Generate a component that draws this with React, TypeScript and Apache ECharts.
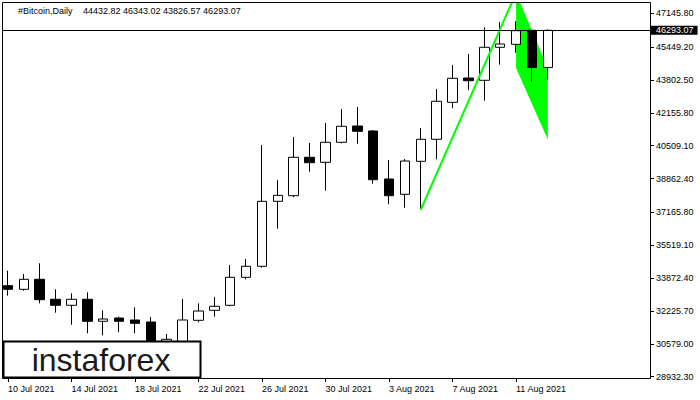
import React, { useEffect, useRef } from "react";
import * as echarts from "echarts";

const FONT = '"Liberation Sans", Arial, sans-serif';

const symbolName = "#Bitcoin,Daily";

// Candle dates (bars that exist)
const dates = [
  "10 Jul 2021", "11 Jul 2021", "12 Jul 2021", "13 Jul 2021", "14 Jul 2021",
  "15 Jul 2021", "16 Jul 2021", "17 Jul 2021", "18 Jul 2021", "19 Jul 2021",
  "20 Jul 2021", "21 Jul 2021", "22 Jul 2021", "23 Jul 2021", "24 Jul 2021",
  "25 Jul 2021", "26 Jul 2021", "27 Jul 2021", "28 Jul 2021", "29 Jul 2021",
  "30 Jul 2021", "31 Jul 2021", "1 Aug 2021", "2 Aug 2021", "3 Aug 2021",
  "4 Aug 2021", "5 Aug 2021", "6 Aug 2021", "7 Aug 2021", "8 Aug 2021",
  "9 Aug 2021", "10 Aug 2021", "11 Aug 2021", "12 Aug 2021", "13 Aug 2021",
];
// Empty space to the right of the last bar
const futureSlots = [
  "14 Aug 2021", "15 Aug 2021", "16 Aug 2021", "17 Aug 2021", "18 Aug 2021", "19 Aug 2021",
];

const opens = [
  33493, 33312, 33814, 32812, 32511, 32812, 31709, 31874, 31774, 31674,
  29950, 30600, 31759, 32260, 32511, 33914, 34466, 37723, 38004, 39929,
  39678, 40680, 41497, 41247, 38841, 38074, 39728, 40831, 42685, 43903,
  43788, 45442, 45592, 46293, 44432.82,
];
const highs = [
  34245, 34080, 34616, 33312, 33112, 33162, 32260, 31939, 32411, 31924,
  31072, 32827, 32611, 32927, 34531, 34831, 40545, 38791, 40946, 40645,
  41648, 42349, 42449, 41297, 39793, 39843, 41397, 43352, 44555, 45106,
  46444, 46710, 46745, 46330, 46343.02,
];
const lows = [
  32992, 33243, 32611, 32140, 31539, 31107, 31007, 31158, 31107, 30300,
  29400, 30100, 31659, 31939, 32461, 33814, 34395, 36350, 37924, 39207,
  38255, 40630, 40610, 38605, 37573, 37403, 37337, 39828, 42385, 43287,
  42765, 44570, 45171, 43718, 43826.57,
];
const closes = [
  33313, 33814, 32792, 32511, 32812, 31709, 31824, 31709, 31609, 30650,
  30807, 31774, 32225, 32461, 33914, 34466, 37723, 38024, 39929, 39658,
  40680, 41483, 41232, 38806, 38004, 39743, 40831, 42735, 43888, 43768,
  45442, 45607, 46274, 44433, 46293.07,
];

const yTicks = [
  28932.3, 30579.0, 32225.7, 33872.4, 35519.1, 37165.8,
  38862.4, 40509.1, 42155.8, 43802.5, 45449.2, 47145.8,
];
const yMin = 28867;
const yMax = 47662;

// Flag pattern (pole + flag body), in bar index / price
const poleIdx = [26, 32];
const poleVals = [37300, 48163];
const flagIdx = [32, 34, 34, 32];
const flagVals = [48163, 44404, 40821, 44404];

const GREEN = "#00ff00";

export default function App() {
  const ref = useRef<HTMLDivElement>(null);

  useEffect(() => {
    document.body.style.margin = "0";
    const chart = echarts.init(ref.current!, null, { renderer: "svg" });
    const categories = [...dates, ...futureSlots];
    const last = dates.length - 1;
    const candleData = opens.map((o, i) => [o, closes[i], lows[i], highs[i]]);
    const showIdx = (i: number) => i % 4 === 0 && i < dates.length;
    const headerVals = [opens[last], highs[last], lows[last], closes[last]]
      .map((v) => v.toFixed(2))
      .join(" ");

    chart.setOption({
      animation: false,
      backgroundColor: "#ffffff",
      textStyle: { fontFamily: FONT },
      grid: { left: -5, right: 49, top: 3, bottom: 22, show: false },
      xAxis: {
        type: "category",
        data: categories,
        boundaryGap: true,
        axisLine: { show: false },
        axisTick: {
          show: true,
          alignWithLabel: true,
          length: 4,
          interval: (i: number) => showIdx(i),
          lineStyle: { color: "#000", width: 1 },
        },
        axisLabel: {
          interval: (i: number) => showIdx(i),
          align: "left",
          margin: 6,
          color: "#000",
          fontSize: 9,
          fontFamily: FONT,
        },
        splitLine: { show: false },
      },
      yAxis: {
        type: "value",
        position: "right",
        min: yMin,
        max: yMax,
        axisLine: { show: false },
        axisTick: {
          show: true,
          length: 3,
          customValues: yTicks,
          lineStyle: { color: "#000", width: 1 },
        },
        axisLabel: {
          customValues: yTicks,
          formatter: (v: number) => v.toFixed(2),
          margin: 5,
          color: "#000",
          fontSize: 9,
          fontFamily: FONT,
        },
        splitLine: { show: false },
      },
      series: [
        {
          type: "custom",
          name: "flag",
          clip: true,
          silent: true,
          z: 1,
          data: [[flagIdx[0], flagVals[0]]],
          renderItem: (_params: any, api: any) => ({
            type: "polygon",
            shape: {
              points: flagIdx.map((x, k) => api.coord([x, flagVals[k]])),
            },
            style: { fill: GREEN },
          }),
        },
        {
          type: "candlestick",
          name: "Bitcoin",
          z: 2,
          barWidth: 10,
          data: candleData,
          itemStyle: {
            color: "#ffffff",
            color0: "#000000",
            borderColor: "#000000",
            borderColor0: "#000000",
            borderWidth: 1,
          },
          markLine: {
            silent: true,
            symbol: ["none", "none"],
            lineStyle: { color: "#000", width: 1, type: "solid" },
            label: {
              position: "end",
              distance: 0,
              formatter: () => closes[last].toFixed(2),
              backgroundColor: "#000",
              color: "#fff",
              fontSize: 9,
              fontFamily: FONT,
              lineHeight: 9,
              padding: [0, 4, 0, 5],
            },
            data: [{ yAxis: closes[last] }],
          },
        },
        {
          type: "line",
          name: "pole",
          z: 3,
          clip: true,
          silent: true,
          showSymbol: false,
          symbol: "none",
          data: poleIdx.map((x, k) => [x, poleVals[k]]),
          lineStyle: { color: GREEN, width: 2 },
        },
      ],
      graphic: [
        {
          type: "rect",
          z: 99,
          silent: true,
          shape: { x: 0, y: 0, width: 2, height: 400 },
          style: { fill: "#ffffff" },
        },
        {
          type: "rect",
          z: 100,
          silent: true,
          shape: { x: 2.5, y: 2.5, width: 648, height: 376 },
          style: { fill: "none", stroke: "#000", lineWidth: 1 },
        },
        {
          type: "text",
          z: 100,
          silent: true,
          x: 18,
          y: 11,
          style: {
            text: symbolName,
            font: `9px ${FONT}`,
            fill: "#000",
            align: "left",
            verticalAlign: "middle",
          },
        },
        {
          type: "text",
          z: 100,
          silent: true,
          x: 83,
          y: 11,
          style: {
            text: headerVals,
            font: `9px ${FONT}`,
            fill: "#000",
            align: "left",
            verticalAlign: "middle",
          },
        },
        {
          type: "rect",
          z: 101,
          silent: true,
          shape: { x: 3.5, y: 341.5, width: 197, height: 36 },
          style: { fill: "#ffffff", stroke: "#000", lineWidth: 2 },
        },
        {
          type: "text",
          z: 102,
          silent: true,
          x: 101,
          y: 359.5,
          style: {
            text: "instaforex",
            font: `32px ${FONT}`,
            fill: "#1a1a1a",
            align: "center",
            verticalAlign: "middle",
          },
        },
      ],
    });
    return () => chart.dispose();
  }, []);

  return <div ref={ref} style={{ width: 700, height: 400 }} />;
}
